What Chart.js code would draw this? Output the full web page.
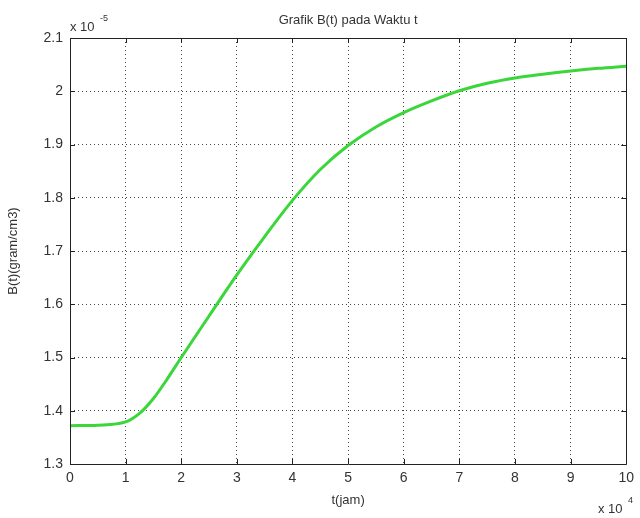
<!DOCTYPE html>
<html>
<head>
<meta charset="utf-8">
<script src="https://cdn.jsdelivr.net/npm/chart.js@4.4.1/dist/chart.umd.min.js"></script>
<style>
  html, body { margin: 0; padding: 0; background: #fff; }
  #wrap { width: 640px; height: 518px; position: relative; }
</style>
</head>
<body>
<div id="wrap"><canvas id="chartB"></canvas></div>
<script>
// waktu t dalam satuan x 10^4 jam
const tValues = [0, 0.5, 1.0, 1.25, 1.5, 1.75, 2.0, 2.5, 3.0, 3.5, 4.0, 4.5, 5.0, 5.5, 6.0, 6.5, 7.0, 7.5, 8.0, 8.5, 9.0, 9.5, 10.0];
// B(t) dalam satuan x 10^-5 gram/cm3
const bValues = [1.372, 1.373, 1.379, 1.395, 1.423, 1.460, 1.500, 1.578, 1.655, 1.727, 1.795, 1.853, 1.898, 1.933, 1.960, 1.982, 2.001, 2.015, 2.025, 2.032, 2.038, 2.043, 2.047];
const xTicks = [0, 1, 2, 3, 4, 5, 6, 7, 8, 9, 10];
const yTicks = [1.3, 1.4, 1.5, 1.6, 1.7, 1.8, 1.9, 2.0, 2.1];

const judul = 'Grafik B(t) pada Waktu t';
const labelX = 't(jam)';
const labelY = 'B(t)(gram/cm3)';

const fontName = '"Liberation Sans", Arial, sans-serif';

// kotak, tick ke dalam, judul dan label eksponen ala MATLAB
const matlabPlugin = {
    id: 'matlabStyle',
    afterDraw(chart) {
        const ctx = chart.ctx;
        const a = chart.chartArea;
        const sx = chart.scales.x;
        const sy = chart.scales.y;
        ctx.save();
        ctx.strokeStyle = '#222';
        ctx.lineWidth = 1;
        ctx.setLineDash([]);
        ctx.beginPath();
        ctx.rect(Math.round(a.left) + 0.5, Math.round(a.top) + 0.5,
                 Math.round(a.right - a.left), Math.round(a.bottom - a.top));
        ctx.stroke();
        ctx.beginPath();
        xTicks.forEach(v => {
            const px = Math.round(sx.getPixelForValue(v)) + 0.5;
            ctx.moveTo(px, a.bottom); ctx.lineTo(px, a.bottom - 5);
            ctx.moveTo(px, a.top); ctx.lineTo(px, a.top + 5);
        });
        yTicks.forEach(v => {
            const py = Math.round(sy.getPixelForValue(v)) + 0.5;
            ctx.moveTo(a.left, py); ctx.lineTo(a.left + 5, py);
            ctx.moveTo(a.right, py); ctx.lineTo(a.right - 5, py);
        });
        ctx.stroke();

        ctx.fillStyle = '#333';
        ctx.textBaseline = 'alphabetic';
        ctx.font = '13px ' + fontName;
        ctx.textAlign = 'center';
        ctx.fillText(judul, (a.left + a.right) / 2, 24);

        ctx.textAlign = 'left';
        ctx.font = '13px ' + fontName;
        ctx.fillText('x 10', 70, 31);
        ctx.font = '9px ' + fontName;
        ctx.fillText('-5', 100, 21);

        ctx.font = '13px ' + fontName;
        ctx.fillText('x 10', 598, 513);
        ctx.font = '9px ' + fontName;
        ctx.fillText('4', 628, 503);
        ctx.restore();
    }
};

new Chart(document.getElementById('chartB').getContext('2d'), {
    type: 'line',
    data: {
        datasets: [{
            data: tValues.map((t, i) => ({ x: t, y: bValues[i] })),
            borderColor: '#3ad63a',
            borderWidth: 3,
            pointRadius: 0,
            cubicInterpolationMode: 'monotone',
            fill: false
        }]
    },
    options: {
        responsive: true,
        maintainAspectRatio: false,
        animation: false,
        layout: { padding: { top: 38, right: 6, left: 0, bottom: 0 } },
        plugins: {
            legend: { display: false },
            tooltip: { enabled: false }
        },
        scales: {
            x: {
                type: 'linear',
                min: 0,
                max: 10,
                afterBuildTicks(scale) { scale.ticks = xTicks.map(v => ({ value: v })); },
                afterFit(scale) { scale.height = 54; },
                ticks: {
                    color: '#333',
                    font: { family: fontName, size: 14 },
                    padding: 6,
                    maxRotation: 0,
                    callback: v => String(v)
                },
                grid: { color: '#444', lineWidth: 1, drawTicks: false },
                border: { display: false, dash: [1, 3] },
                title: {
                    display: true,
                    text: labelX,
                    color: '#333',
                    font: { family: fontName, size: 13 },
                    padding: { top: 0, bottom: 10 }
                }
            },
            y: {
                type: 'linear',
                min: 1.3,
                max: 2.1,
                afterBuildTicks(scale) { scale.ticks = yTicks.map(v => ({ value: v })); },
                afterFit(scale) { scale.width = 70; },
                ticks: {
                    color: '#333',
                    font: { family: fontName, size: 14 },
                    padding: 7,
                    callback: v => String(Number(v.toFixed(1)))
                },
                grid: { color: '#444', lineWidth: 1, drawTicks: false },
                border: { display: false, dash: [1, 3] },
                title: {
                    display: true,
                    text: labelY,
                    color: '#333',
                    font: { family: fontName, size: 13 },
                    padding: { top: 6, bottom: 0 }
                }
            }
        }
    },
    plugins: [matlabPlugin]
});
</script>
</body>
</html>
